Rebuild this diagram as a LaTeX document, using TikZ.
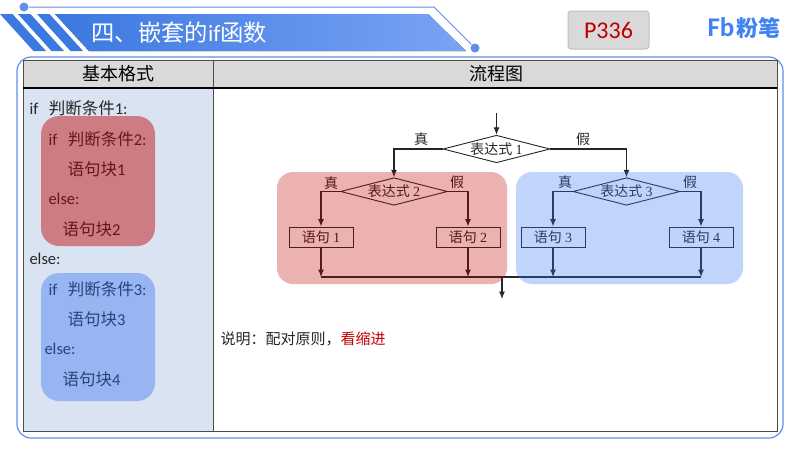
\documentclass[tikz,border=0pt]{standalone}
\usepackage{fontspec}
\setmainfont{Carlito}
\newfontfamily\cjk{Noto Sans CJK SC}
\newfontfamily\numfont{Liberation Serif}
\usetikzlibrary{arrows.meta,shapes.geometric}
\definecolor{bannerL}{HTML}{3B78E0}
\definecolor{bannerR}{HTML}{7BA3F5}
\definecolor{frameblue}{HTML}{5F8FE8}
\definecolor{logoblue}{HTML}{3F82F2}
\definecolor{cellblue}{HTML}{D9E3F2}
\definecolor{headgrey}{HTML}{D9D9D9}
\definecolor{inkdark}{HTML}{262626}
\definecolor{groupred}{HTML}{C00000}
\definecolor{groupblue}{HTML}{3370F2}
\begin{document}
\begin{tikzpicture}[x=1pt,y=-1pt,-{Latex[length=7.5pt,width=6pt]},line width=1.05pt,color=black!85]
   \useasboundingbox (0,0) rectangle (800,450);
   \tikzstyle{cond}=[diamond, aspect=3.9, inner sep=0pt, minimum width=107pt, minimum height=27.5pt, draw=black!85, line width=.9pt, fill=white, font=\cjk\fontsize{14}{14}\selectfont, text=inkdark]
   \tikzstyle{stmt}=[rectangle, minimum width=64pt, minimum height=20pt, inner sep=0pt, draw=black!85, line width=.9pt, fill=white, font=\cjk\fontsize{14}{14}\selectfont, text=inkdark]
   \tikzstyle{flag}=[font=\cjk\fontsize{14}{14}\selectfont, text=inkdark, inner sep=0pt]
   \tikzstyle{code}=[anchor=west, inner sep=0pt, font=\fontsize{16.5}{17}\selectfont, text=inkdark]
   \tikzstyle{head}=[inner sep=0pt, font=\cjk\fontsize{18}{18}\selectfont, text=black]
   % banner
   \fill[left color=bannerL, right color=bannerR, -] (55,14) -- (428,14) -- (466,51) -- (89,51) -- cycle;
   \foreach \sx in {0,18,37} {
       \fill[bannerL, -] (\sx,14) -- (\sx+12.5,14) -- (\sx+46,51) -- (\sx+33.5,51) -- cycle;
   }
   \node[circle, fill=frameblue, minimum size=9pt, inner sep=0pt] (dotL) at (24,7) {};
   \node[circle, fill=frameblue, minimum size=9pt, inner sep=0pt] (dotR) at (475,48) {};
   \coordinate (bend) at (434,7);
   \draw[frameblue, line width=1pt, -] (dotL) -- (bend) -- (dotR);
   \node[inner sep=0pt, anchor=west, text=white, font=\fontsize{23.3}{23}\selectfont] (title) at (91,33) {{\cjk 四、嵌套的}if{\cjk 函数}};
   % page tag and logo
   \node[rectangle, rounded corners=3pt, minimum width=81pt, minimum height=38pt, fill=headgrey, draw=black!25, line width=1pt, text=groupred, font=\fontsize{24}{24}\selectfont] (page) at (608.5,30) {P336};
   \node[inner sep=0pt, anchor=west, text=logoblue, font=\bfseries\fontsize{27}{27}\selectfont] (logo) at (707,28.5) {Fb\hspace{2pt}{\cjk\fontsize{22}{22}\selectfont\bfseries 粉笔}};
   % table
   \draw[frameblue, line width=1.2pt, rounded corners=14pt, -] (17,57) rectangle (783,438);
   \fill[headgrey, -] (23,60) rectangle (777,88);
   \fill[cellblue, -] (23,88) rectangle (213,431);
   \draw[black!70, line width=.9pt, -] (23,60) rectangle (777,431);
   \draw[black!70, line width=.9pt, -] (213,60) -- (213,431);
   \draw[black, line width=1.1pt, -] (23,88) -- (777,88);
   \node[head] (headL) at (118,74) {基本格式};
   \node[head] (headR) at (496,74) {流程图};
   % code column
   \node[code] (c1) at (29,108) {if\hspace{10.5pt}{\cjk 判断条件}1:};
   \node[code] (c2) at (48,139) {if\hspace{10.5pt}{\cjk 判断条件}2:};
   \node[code] (c3) at (67,169) {{\cjk 语句块}1};
   \node[code] (c4) at (48,199) {else:};
   \node[code] (c5) at (62,229) {{\cjk 语句块}2};
   \node[code] (c6) at (29,259) {else:};
   \node[code] (c7) at (48,289) {if\hspace{10.5pt}{\cjk 判断条件}3:};
   \node[code] (c8) at (67,319) {{\cjk 语句块}3};
   \node[code] (c9) at (44,349) {else:};
   \node[code] (c10) at (62,379) {{\cjk 语句块}4};
   \fill[groupred, opacity=.45, rounded corners=18pt, -] (41,116) rectangle (155,246);
   \fill[groupblue, opacity=.4, rounded corners=18pt, -] (41,273) rectangle (155,401);
   % flow chart
   \node[cond] (e1) at (496.5,149) {表达式 {\numfont 1}};
   \node[cond] (e2) at (394,191.5) {表达式 {\numfont 2}};
   \node[cond] (e3) at (626.5,191.5) {表达式 {\numfont 3}};
   \coordinate (entry) at (496.5,113);
   \coordinate (exitT) at (502,277);
   \coordinate (exitB) at (502,299);
   \path (entry) edge (e1);
   \draw (e1.west) -| (e2.north);
   \draw (e1.east) -| (e3.north);
   \foreach \i/\cx/\from/\side in {1/321/e2/west,2/468/e2/east,3/553/e3/west,4/701/e3/east} {
       \node[stmt] (s\i) at (\cx,237) {语句 {\numfont \i}};
       \coordinate (j\i) at (\cx,277);
       \draw (\from.\side) -| (s\i.north);
       \path (s\i) edge (j\i);
   }
   \draw[-] (j1) -- (j4);
   \path (exitT) edge (exitB);
   \node[flag] (t1) at (421,139) {真};
   \node[flag] (f1) at (583,139) {假};
   \node[flag] (t2) at (331,183) {真};
   \node[flag] (f2) at (457,182) {假};
   \node[flag] (t3) at (565,182) {真};
   \node[flag] (f3) at (690,182) {假};
   \fill[groupred, opacity=.3, rounded corners=16pt, -] (277,172) rectangle (507,284);
   \fill[groupblue, opacity=.3, rounded corners=16pt, -] (516,172) rectangle (743,284);
   \node[inner sep=0pt, anchor=west, text=inkdark, font=\cjk\fontsize{15}{15}\selectfont] (note) at (220,339) {说明：配对原则，\textcolor{groupred!90!red}{看缩进}};
\end{tikzpicture}
\end{document}
